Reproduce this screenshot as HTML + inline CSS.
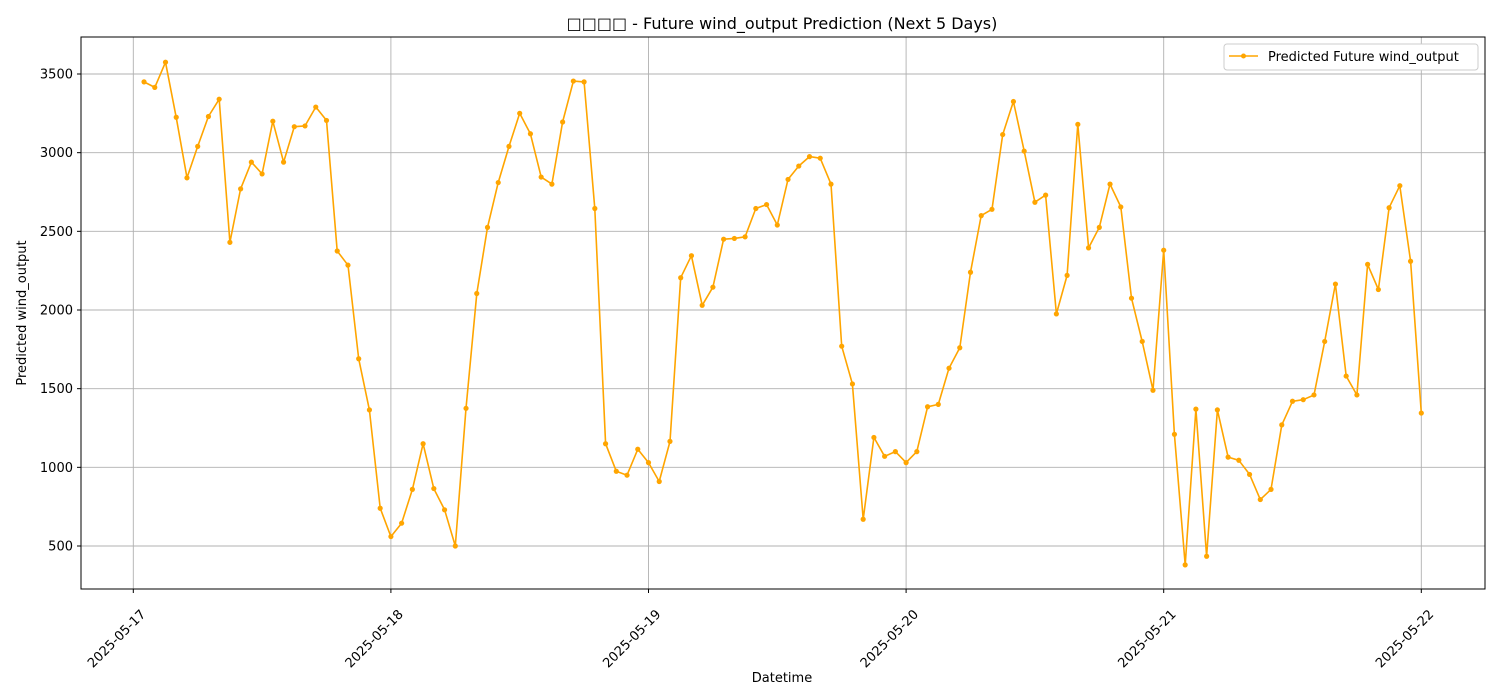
<!DOCTYPE html>
<html><head><meta charset="utf-8"><style>
html,body{margin:0;padding:0;background:#fff;}
svg{display:block;font-family:"DejaVu Sans","Liberation Sans","Noto Sans CJK SC",sans-serif;}
</style></head><body>
<svg id="chart" width="1500" height="700" xmlns="http://www.w3.org/2000/svg">
<rect width="1500" height="700" fill="#fff"/>
<text x="782" y="29" font-size="16" text-anchor="middle" fill="#000">□□□□ - Future wind_output Prediction (Next 5 Days)</text>
<g id="grid"></g>
<g id="series"></g>
<rect x="81" y="37" width="1404" height="552" fill="none" stroke="#000" stroke-width="1"/>
<g id="axes"></g>
<text x="782" y="682" font-size="13" text-anchor="middle">Datetime</text>
<text transform="translate(26,313) rotate(-90)" font-size="13" text-anchor="middle">Predicted wind_output</text>
<g>
<rect x="1224" y="44" width="254" height="26" rx="3" fill="#fff" stroke="#ccc"/>
<line x1="1229" y1="56" x2="1258" y2="56" stroke="#FFA500" stroke-width="1.5"/>
<circle cx="1243.5" cy="56" r="2.5" fill="#FFA500"/>
<text x="1268" y="61" font-size="13">Predicted Future wind_output</text>
</g>
</svg>
<script>
const xTickLabels = ["2025-05-17","2025-05-18","2025-05-19","2025-05-20","2025-05-21","2025-05-22"];
const yTicks = [500,1000,1500,2000,2500,3000,3500];
const hours = Array.from({length:120},(_,i)=>i+1);
const values = [3450,3415,3575,3225,2840,3040,3230,3340,2430,2770,2940,2865,3200,2940,3165,3170,3290,3205,2375,2285,1690,1365,740,560,
645,860,1150,865,730,500,1375,2105,2525,2810,3040,3250,3120,2845,2800,3195,3455,3450,2645,1150,975,950,1115,1030,
910,1165,2205,2345,2030,2145,2450,2455,2465,2645,2670,2540,2830,2915,2975,2965,2800,1770,1530,670,1190,1070,1100,1030,
1100,1385,1400,1630,1760,2240,2600,2640,3115,3325,3010,2685,2730,1975,2220,3180,2395,2525,2800,2655,2075,1800,1490,2380,
1210,380,1370,435,1365,1065,1045,955,795,860,1270,1420,1430,1460,1800,2165,1580,1460,2290,2130,2650,2790,2310,1345];
const NS="http://www.w3.org/2000/svg";
const X0=133.3, DAYPX=257.6;
function xHour(h){return X0+h*DAYPX/24;}
function xDay(d){return X0+d*DAYPX;}
const Y500=546, PXU=472/3000;
function yv(v){return Y500-(v-500)*PXU;}
const grid=document.getElementById('grid'), axes=document.getElementById('axes'), series=document.getElementById('series');
function mk(tag,attrs,parent){const e=document.createElementNS(NS,tag);for(const k in attrs)e.setAttribute(k,attrs[k]);parent.appendChild(e);return e;}
xTickLabels.forEach((lab,i)=>{
  const x=xDay(i);
  const g=mk('line',{x1:x,y1:37,x2:x,y2:589,stroke:'#b0b0b0','stroke-width':0.9},grid);
  
  
  const t=mk('line',{x1:x,y1:589,x2:x,y2:593,stroke:'#000'},axes);
  
  
  const tx=mk('text',{x:0,y:0,'font-size':13,'text-anchor':'end',transform:`translate(${x+13},${615}) rotate(-45)`},axes);
  tx.textContent=lab;
  
  
});
yTicks.forEach(v=>{
  const y=yv(v);
  const g=mk('line',{x1:81,y1:y,x2:1485,y2:y,stroke:'#b0b0b0','stroke-width':0.9},grid);
  
  
  const t=mk('line',{x1:77,y1:y,x2:81,y2:y,stroke:'#000'},axes);
  
  
  const tx=mk('text',{x:73,y:y+4.5,'font-size':13,'text-anchor':'end'},axes);
  tx.textContent=v;
  
  
});
const pts=values.map((v,i)=>xHour(hours[i]).toFixed(1)+','+yv(v).toFixed(1)).join(' ');
const pl=mk('polyline',{points:pts,fill:'none',stroke:'#FFA500','stroke-width':1.6,'stroke-linejoin':'round'},series);


values.forEach((v,i)=>{
  const c=mk('circle',{cx:xHour(hours[i]),cy:yv(v),r:2.6,fill:'#FFA500'},series);
  
  
});
</script>
</body></html>
